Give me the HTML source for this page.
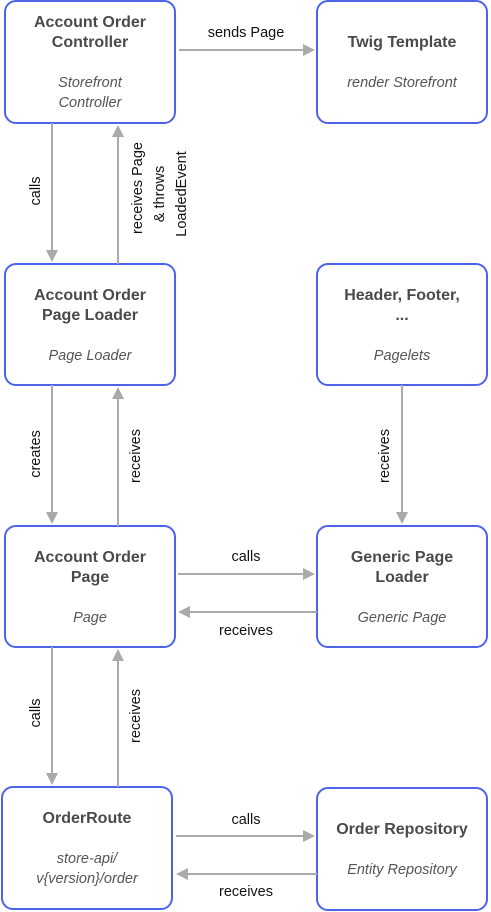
<!DOCTYPE html>
<html><head><meta charset="utf-8"><style>
html,body{margin:0;padding:0;background:#fff;}
svg{display:block;font-family:"Liberation Sans",sans-serif;}
.b{fill:#fff;stroke:#4d63ea;stroke-width:2;}
.t{font-weight:bold;font-size:16px;fill:#4a4a4a;text-anchor:middle;}
.s{font-style:italic;font-size:14.5px;fill:#555;text-anchor:middle;}
.l{stroke:#aaa;stroke-width:2;fill:none;}
.h{fill:#aaa;}
.c{font-size:14.5px;fill:#111;text-anchor:middle;}
</style></head><body>
<svg width="491" height="912" viewBox="0 0 491 912">
<rect class="b" x="5" y="1" width="170" height="122" rx="11"/>
<rect class="b" x="317" y="1" width="170" height="122" rx="11"/>
<rect class="b" x="5" y="264" width="170" height="121" rx="11"/>
<rect class="b" x="317" y="264" width="170" height="121" rx="11"/>
<rect class="b" x="5" y="526" width="170" height="121" rx="11"/>
<rect class="b" x="317" y="526" width="170" height="121" rx="11"/>
<rect class="b" x="2" y="787" width="170" height="122" rx="11"/>
<rect class="b" x="317" y="788" width="170" height="122" rx="11"/>

<text class="t" x="90" y="27">Account Order</text>
<text class="t" x="90" y="47">Controller</text>
<text class="s" x="90" y="87">Storefront</text>
<text class="s" x="90" y="107">Controller</text>

<text class="t" x="402" y="47">Twig Template</text>
<text class="s" x="402" y="87">render Storefront</text>

<text class="t" x="90" y="300">Account Order</text>
<text class="t" x="90" y="320">Page Loader</text>
<text class="s" x="90" y="360">Page Loader</text>

<text class="t" x="402" y="300">Header, Footer,</text>
<text class="t" x="402" y="320">...</text>
<text class="s" x="402" y="360">Pagelets</text>

<text class="t" x="90" y="562">Account Order</text>
<text class="t" x="90" y="582">Page</text>
<text class="s" x="90" y="622">Page</text>

<text class="t" x="402" y="562">Generic Page</text>
<text class="t" x="402" y="582">Loader</text>
<text class="s" x="402" y="622">Generic Page</text>

<text class="t" x="87" y="823">OrderRoute</text>
<text class="s" x="87" y="863">store-api/</text>
<text class="s" x="87" y="883">v{version}/order</text>

<text class="t" x="402" y="834">Order Repository</text>
<text class="s" x="402" y="874">Entity Repository</text>

<line class="l" x1="179" y1="50" x2="305" y2="50"/><polygon class="h" points="315,50 303,44 303,56"/>
<text class="c" x="246" y="37">sends Page</text>

<line class="l" x1="178" y1="574" x2="305" y2="574"/><polygon class="h" points="315,574 303,568 303,580"/>
<text class="c" x="246" y="561">calls</text>
<line class="l" x1="317" y1="612" x2="188" y2="612"/><polygon class="h" points="178,612 190,606 190,618"/>
<text class="c" x="246" y="635">receives</text>

<line class="l" x1="176" y1="836" x2="304" y2="836"/><polygon class="h" points="315,836 303,830 303,842"/>
<text class="c" x="246" y="824">calls</text>
<line class="l" x1="317" y1="874" x2="186" y2="874"/><polygon class="h" points="176,874 188,868 188,880"/>
<text class="c" x="246" y="896">receives</text>

<line class="l" x1="52" y1="123" x2="52" y2="252"/><polygon class="h" points="52,262 46,250 58,250"/>
<line class="l" x1="118" y1="264" x2="118" y2="135"/><polygon class="h" points="118,125 112,137 124,137"/>
<text class="c" transform="translate(40,191) rotate(-90)">calls</text>
<text class="c" transform="translate(142,188) rotate(-90)">receives Page</text>
<text class="c" transform="translate(164,194) rotate(-90)">&amp; throws</text>
<text class="c" transform="translate(186,194) rotate(-90)">LoadedEvent</text>

<line class="l" x1="52" y1="385" x2="52" y2="514"/><polygon class="h" points="52,524 46,512 58,512"/>
<line class="l" x1="118" y1="526" x2="118" y2="397"/><polygon class="h" points="118,387 112,399 124,399"/>
<text class="c" transform="translate(40,454) rotate(-90)">creates</text>
<text class="c" transform="translate(140,456) rotate(-90)">receives</text>

<line class="l" x1="402" y1="385" x2="402" y2="514"/><polygon class="h" points="402,524 396,512 408,512"/>
<text class="c" transform="translate(389,456) rotate(-90)">receives</text>

<line class="l" x1="52" y1="647" x2="52" y2="775"/><polygon class="h" points="52,785 46,773 58,773"/>
<line class="l" x1="118" y1="787" x2="118" y2="659"/><polygon class="h" points="118,649 112,661 124,661"/>
<text class="c" transform="translate(40,713) rotate(-90)">calls</text>
<text class="c" transform="translate(140,716) rotate(-90)">receives</text>
</svg>
</body></html>
